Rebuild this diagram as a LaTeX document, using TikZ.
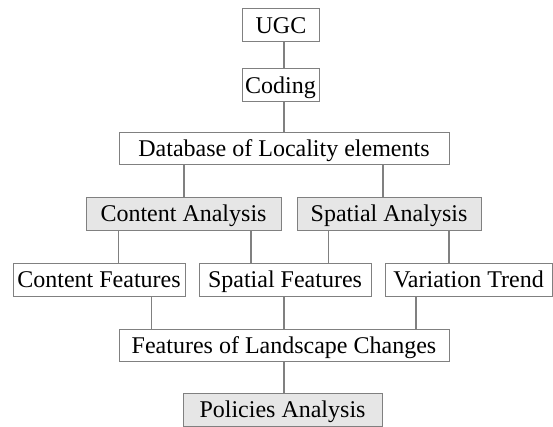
\documentclass[tikz,border=0pt]{standalone}
\usepackage{fontspec}
\setmainfont{Liberation Serif}
\definecolor{edgegray}{RGB}{128,128,128}
\definecolor{boxgray}{RGB}{230,230,230}
\tikzset{
  stage/.style={draw=edgegray, line width=1pt, fill=white, inner sep=0pt,
    minimum height=33, text height=19pt, text depth=3pt,
    font=\fontsize{24}{28}\selectfont},
  greystage/.style={stage, fill=boxgray},
  link/.style={draw=edgegray, line width=1.2pt}
}
\begin{document}
\begin{tikzpicture}[x=1pt, y=-1pt]
  \useasboundingbox (0,0) rectangle (553,427);
  % boxes
  \node[stage, minimum width=77] (ugc) at (281,25.5) {UGC};
  \node[stage, minimum width=77] (coding) at (280.5,85.5) {Coding};
  \node[stage, minimum width=330, minimum height=32] (db) at (284,149) {Database of Locality elements};
  \node[greystage, minimum width=195] (ca) at (183.5,214) {Content Analysis};
  \node[greystage, minimum width=184] (sa) at (389,214) {Spatial Analysis};
  \node[stage, minimum width=172] (cf) at (99,279.5) {Content Features};
  \node[stage, minimum width=172] (sf) at (285,279.5) {Spatial Features};
  \node[stage, minimum width=167] (vt) at (468.5,279.5) {Variation Trend};
  \node[stage, minimum width=330, minimum height=32] (flc) at (284,345) {Features of Landscape Changes};
  \node[greystage, minimum width=199] (pa) at (282.5,409.5) {Policies Analysis};
  % links
  \draw[link] (ugc.south -| 284,0) -- (coding.north -| 284,0);
  \draw[link] (coding.south -| 284,0) -- (db.north -| 284,0);
  \draw[link] (db.south -| 184,0) -- (ca.north -| 184,0);
  \draw[link] (db.south -| 383,0) -- (sa.north -| 383,0);
  \draw[link] (ca.south -| 118.5,0) -- (cf.north -| 118.5,0);
  \draw[link] (ca.south -| 251,0) -- (sf.north -| 251,0);
  \draw[link] (sa.south -| 328.5,0) -- (sf.north -| 328.5,0);
  \draw[link] (sa.south -| 449,0) -- (vt.north -| 449,0);
  \draw[link] (cf.south -| 151.5,0) -- (flc.north -| 151.5,0);
  \draw[link] (sf.south -| 284,0) -- (flc.north -| 284,0);
  \draw[link] (vt.south -| 416,0) -- (flc.north -| 416,0);
  \draw[link] (flc.south -| 284,0) -- (pa.north -| 284,0);
\end{tikzpicture}
\end{document}
